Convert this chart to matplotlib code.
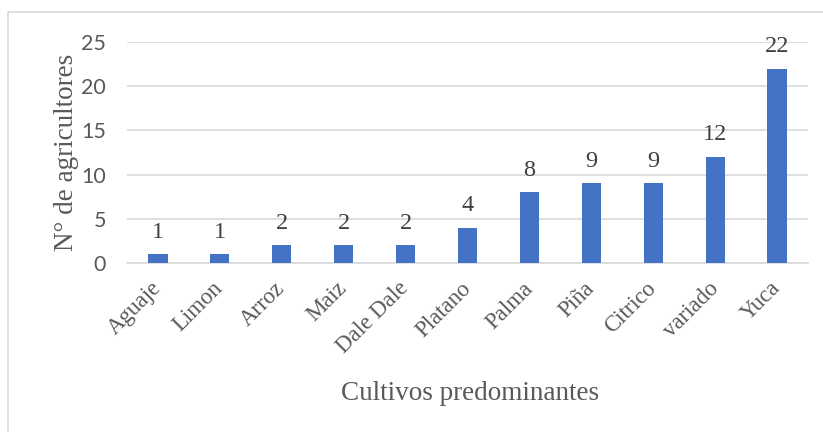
import matplotlib.pyplot as plt
from matplotlib.patches import Rectangle

cultivos = ["Aguaje", "Limon", "Arroz", "Maiz", "Dale Dale", "Platano",
            "Palma", "Piña", "Citrico", "variado", "Yuca"]
agricultores = [1, 1, 2, 2, 2, 4, 8, 9, 9, 12, 22]
y_ticks = [0, 5, 10, 15, 20, 25]

serif = "Liberation Serif"
sans = "Lato"

fig = plt.figure(figsize=(8.23, 4.32), dpi=100, facecolor="white")
# light frame of the chart area (only left/top edges visible in the crop)
fig.patches.append(Rectangle((8 / 823, -0.1), 1.2, 1 - 12 / 432 + 0.1,
                             transform=fig.transFigure, fill=False,
                             ec="#D9D9D9", lw=1.2))

ax = fig.add_axes([0.1543, 0.3912, 0.8275, 0.5116])
x = range(len(cultivos))
bars = ax.bar(x, agricultores, width=0.31, color="#4472C4", zorder=3)

for xi, v in zip(x, agricultores):
    ax.text(xi, v + 1.3, str(v), ha="center", va="bottom",
            fontsize=17.5, family=serif, color="#404040")

ax.set_xlim(-0.5, len(cultivos) - 0.5)
ax.set_ylim(0, 25)
ax.set_yticks(y_ticks)
ax.set_yticklabels([str(t) for t in y_ticks], family=sans, fontsize=15.5, color="#595959")
ax.set_xticks(list(x))
ax.set_xticklabels(cultivos, rotation=45, ha="right", va="center",
                   rotation_mode="anchor", family=serif, fontsize=16.5, color="#595959")
ax.tick_params(axis="both", length=0)
ax.tick_params(axis="x", pad=16)
ax.tick_params(axis="y", pad=15)

ax.grid(axis="y", color="#D9D9D9", lw=1.2, zorder=0)
for s in ["top", "right", "left"]:
    ax.spines[s].set_visible(False)
ax.spines["bottom"].set_color("#D9D9D9")
ax.spines["bottom"].set_linewidth(1.2)

ax.set_ylabel("N° de agricultores", family=serif, fontsize=19.5, color="#595959", labelpad=2)
fig.text(470 / 823, 1 - 393 / 432, "Cultivos predominantes", ha="center", va="center",
         family=serif, fontsize=19.5, color="#595959")

fig.savefig("out.png", dpi=100)
